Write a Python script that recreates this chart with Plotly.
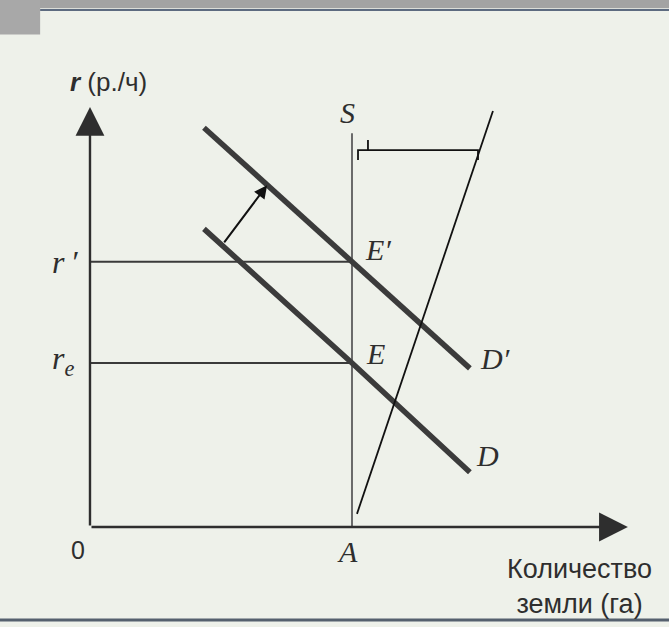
import plotly.graph_objects as go

# оси (условные единицы): x - количество земли, y - рента
q_fix = 10            # точка A, предложение земли S фиксировано
r_e = 6.0
r_new = 9.7
s_top = 14.4

d_x = [4.35, 10, 14.5]
d_y = [10.9, 6.0, 2.0]
d2_x = [4.35, 10, 14.5]
d2_y = [14.6, 9.7, 5.8]

# сдвиг спроса (стрелка)
shift_from = (5.08, 10.35)
shift_to = (6.76, 12.5)

# пометки от руки поверх рисунка
hand_x = [10.19, 15.38]
hand_y = [0.48, 15.21]
bracket_x = [10.23, 10.23, 14.81, 14.81]
bracket_y = [13.42, 13.78, 13.78, 13.42]
tick_x = [10.61, 10.61]
tick_y = [13.78, 14.15]

x_tip = 20.53
y_tip = 15.36

ink = '#2e2e2e'
serif = 'Liberation Serif'
sans = 'Liberation Sans'

fig = go.Figure()

def line(xs, ys, color, width):
    fig.add_trace(go.Scatter(x=xs, y=ys, mode='lines', hoverinfo='skip',
                             line=dict(color=color, width=width)))

line([0, q_fix], [r_new, r_new], '#3a3a3a', 2)
line([0, q_fix], [r_e, r_e], '#3a3a3a', 2)
line([q_fix, q_fix], [0, s_top], '#6a6a6a', 2)
line(d_x, d_y, '#3b3b3b', 5.5)
line(d2_x, d2_y, '#3b3b3b', 5.5)
line(hand_x, hand_y, '#111111', 1.8)
line(bracket_x, bracket_y, '#111111', 1.8)
line(tick_x, tick_y, '#111111', 1.8)

# оси со стрелками
def arrow(head, tail, color, size, width):
    fig.add_annotation(x=head[0], y=head[1], ax=tail[0], ay=tail[1],
                       xref='x', yref='y', axref='x', ayref='y',
                       showarrow=True, arrowhead=2, arrowsize=size, arrowwidth=width,
                       arrowcolor=color, text='')

arrow((0, y_tip), (0, 0), ink, 2.4, 2.4)
arrow((x_tip, 0), (0, 0), ink, 2.4, 2.4)
arrow(shift_to, shift_from, '#111111', 1.3, 2)

def label(x, y, txt, size=30, family=serif, xanchor='center'):
    fig.add_annotation(x=x, y=y, text=txt, showarrow=False, xanchor=xanchor,
                       font=dict(family=family, size=size, color=ink))

label(9.81, 15.17, '<i>S</i>')
label(10.99, 10.13, '<i>E′</i>')
label(10.88, 6.36, '<i>E</i>')
label(15.46, 6.18, '<i>D′</i>')
label(15.19, 2.6, '<i>D</i>')
label(9.81, -0.91, '<i>A</i>')
label(-0.95, 9.69, '<i>r</i> ′', size=32)
label(-1.03, 6.1, '<i>r<sub>e</sub></i>', size=32)
label(-0.46, -0.84, '0', size=25, family=sans)
label(-0.84, 16.27, '<i><b>r</b></i> (р./ч)', size=26, family=sans, xanchor='left')
label(18.7, -2.16, 'Количество<br>земли (га)', size=27, family=sans)

fig.update_layout(
    width=669, height=627,
    margin=dict(l=0, r=0, t=0, b=0),
    showlegend=False,
    paper_bgcolor='#eef1ea', plot_bgcolor='#eef1ea',
    xaxis=dict(range=[-3.435, 22.1], visible=False, fixedrange=True),
    yaxis=dict(range=[-3.656, 19.27], visible=False, fixedrange=True),
    shapes=[
        dict(type='rect', xref='paper', yref='paper', x0=0, x1=1, y0=0.987, y1=1,
             fillcolor='#a3a3a3', line_width=0, layer='below'),
        dict(type='rect', xref='paper', yref='paper', x0=0, x1=0.06, y0=0.945, y1=1,
             fillcolor='#a8a8a8', line_width=0, layer='below'),
        dict(type='line', xref='paper', yref='paper', x0=0.06, x1=1, y0=0.984, y1=0.984,
             line=dict(color='#5d6b80', width=2), layer='below'),
        dict(type='line', xref='paper', yref='paper', x0=0, x1=1, y0=0.011, y1=0.011,
             line=dict(color='#55606e', width=3), layer='below'),
    ],
)

fig.write_html('out.html', config={'displayModeBar': False},
               post_script="document.body.style.margin='0px';")
